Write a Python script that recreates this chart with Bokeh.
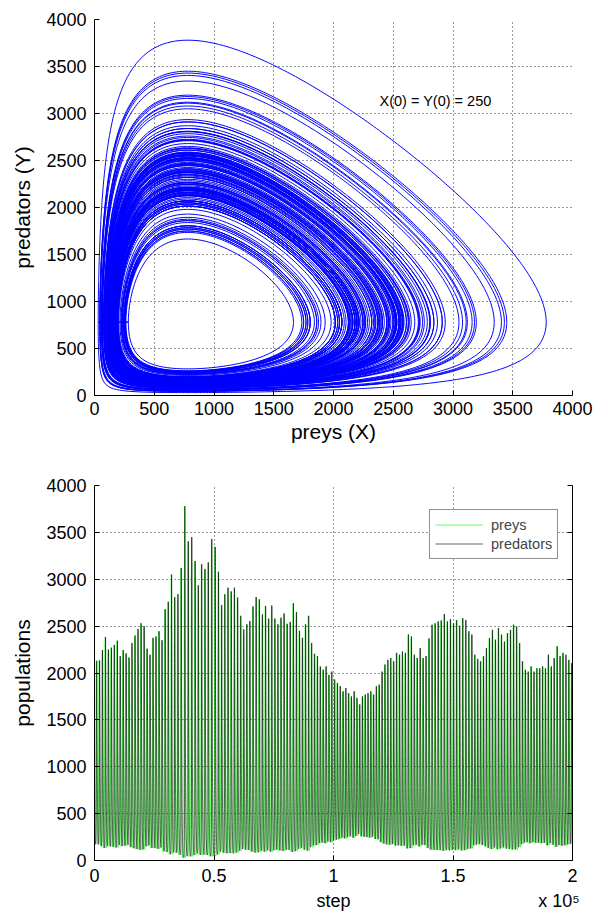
import numpy as np
from bokeh.embed import file_html
from bokeh.layouts import column
from bokeh.models import FixedTicker, Label, Legend, LegendItem, LinearAxis
from bokeh.plotting import figure
from bokeh.resources import INLINE

# Highest population reached in each successive predator-prey cycle, in step order
cycle_peaks = [
    2130, 2135, 2245, 2385, 2250, 2270, 2300, 2345, 2180, 2245, 2210, 2165,
    2320, 2400, 2470, 2530, 2500, 2260, 2195, 2375, 2390, 2445, 2350, 2680,
    2760, 3050, 2810, 2840, 3120, 3780, 3405, 3450, 3195, 2935, 3160, 3110,
    3180, 3430, 3345, 3080, 2725, 2840, 2910, 2870, 2910,
    2805, 2610, 2465, 2520, 2555, 2710, 2810, 2785, 2625, 2715, 2580, 2720,
    2580, 2520, 2590, 2635, 2525, 2545, 2745, 2650, 2450, 2375, 2520, 2610,
    2320, 2205, 2180, 2070, 2035, 2070, 1980, 2015, 1930, 1895, 1860, 1805,
    1840, 1785, 1750, 1805, 1735, 1665, 1750, 1770, 1785, 1805, 1770, 1860, 1875,
    2015, 2090, 2140, 2160, 2125, 2215, 2195, 2230, 2215, 2410, 2390, 2195,
    2160, 2265, 2160, 2180, 2370, 2515, 2530, 2550, 2560, 2630,
    2550, 2575, 2530, 2565, 2505, 2585, 2565, 2445, 2410, 2195, 2150, 2125,
    2180, 2265, 2370, 2460, 2355, 2480, 2410, 2335,
    2425, 2460, 2515, 2495, 2320, 2125, 2035, 2015, 2070, 2015, 2050, 2050,
    2070, 2050, 2195, 2070, 2160, 2285, 2180, 2215, 2195, 2140, 2105,
]
equilibrium_level = 780      # population around which both species cycle
initial_level = 250          # X(0) = Y(0)
total_steps = 200_000

population_ticks = [0, 500, 1000, 1500, 2000, 2500, 3000, 3500, 4000]
step_ticks = [0, 50_000, 100_000, 150_000, 200_000]
step_tick_labels = ["0", "0.5", "1", "1.5", "2"]
step_title = "step"
step_scale_note = "x 10\u2075"

FONT = "Liberation Sans"


def cycle_orbits(peaks, level, dt=0.004, max_steps=8000):
    """Integrate the closed predator-prey orbit through each recorded peak (log form, RK4)."""
    u = np.log(np.asarray(peaks, float) / level)
    v = np.zeros_like(u)

    def rate(a, b):
        return 1.0 - np.exp(b), np.exp(a) - 1.0

    us, vs = [u], [v]
    for _ in range(max_steps):
        a1, b1 = rate(u, v)
        a2, b2 = rate(u + 0.5 * dt * a1, v + 0.5 * dt * b1)
        a3, b3 = rate(u + 0.5 * dt * a2, v + 0.5 * dt * b2)
        a4, b4 = rate(u + dt * a3, v + dt * b3)
        u = u + dt * (a1 + 2 * a2 + 2 * a3 + a4) / 6.0
        v = v + dt * (b1 + 2 * b2 + 2 * b3 + b4) / 6.0
        us.append(u)
        vs.append(v)
    return np.array(us), np.array(vs), dt


U, V, dt = cycle_orbits(cycle_peaks, equilibrium_level)

cycles = []
for k in range(len(cycle_peaks)):
    cu, cv = U[:, k], V[:, k]
    hits = np.where((cv[:-1] < 0) & (cv[1:] >= 0) & (cu[1:] > 0))[0]
    j = hits[0] + 1 if len(hits) else len(cu) - 1
    start = int(np.argmin(cu[:j]))            # begin each cycle at the prey minimum
    order = np.r_[start:j, 0:start]
    xs = equilibrium_level * np.exp(cu[order])
    ys = equilibrium_level * np.exp(cv[order])
    ts = np.arange(j) * dt
    seg = np.hypot(np.diff(xs), np.diff(ys))
    s = np.r_[0.0, np.cumsum(seg)]
    keep = np.searchsorted(s, np.arange(0.0, s[-1], 25.0))
    keep = np.unique(np.r_[keep, np.argmax(xs), np.argmax(ys), j - 1])
    cycles.append((xs[keep], ys[keep], ts[keep], j * dt))

periods = np.array([c[3] for c in cycles])
step_scale = total_steps / periods.sum()
offsets = np.r_[0.0, np.cumsum(periods)[:-1]]

prey = np.concatenate([c[0] for c in cycles])
predators = np.concatenate([c[1] for c in cycles])
steps = np.concatenate([(o + c[2]) * step_scale for o, c in zip(offsets, cycles)])


def style(p):
    p.outline_line_color = None
    p.background_fill_color = "white"
    p.border_fill_color = "white"
    for ax in p.axis:
        ax.axis_line_color = "black"
        ax.axis_line_width = 1
        ax.major_tick_line_color = "black"
        ax.major_tick_in = 5
        ax.major_tick_out = 0
        ax.minor_tick_in = 0
        ax.minor_tick_out = 0
        ax.major_label_text_font = FONT
        ax.major_label_text_font_size = "18px"
        ax.major_label_text_color = "black"
        ax.axis_label_text_font = FONT
        ax.axis_label_text_font_size = "21px"
        ax.axis_label_text_font_style = "normal"
        ax.axis_label_text_color = "black"
    p.grid.grid_line_color = "black"
    p.grid.grid_line_alpha = 0.8
    p.grid.grid_line_dash = "1 3"
    p.grid.grid_line_width = 1


# Phase portrait: predators against preys
p1 = figure(
    width=608, height=459, x_range=(0, 4000), y_range=(0, 4000),
    output_backend="svg", toolbar_location=None,
    min_border_left=94, min_border_right=36, min_border_top=19, min_border_bottom=64,
)
p1.line(prey, predators, line_color="#0000ff", line_width=1.0)
p1.xaxis.ticker = FixedTicker(ticks=population_ticks)
p1.yaxis.ticker = FixedTicker(ticks=population_ticks)
p1.xaxis.axis_label = "preys (X)"
p1.yaxis.axis_label = "predators (Y)"
style(p1)
p1.xaxis.major_label_standoff = 6
p1.xaxis.axis_label_standoff = 2
p1.yaxis.major_label_standoff = 8
p1.yaxis.axis_label_standoff = 9
p1.add_layout(Label(
    x=2385, y=3138, text=f"X(0) = Y(0) = {initial_level}",
    text_font=FONT, text_font_size="14.5px", text_baseline="middle", text_color="black",
))

# Both populations against simulation step
p2 = figure(
    width=608, height=454, x_range=(0, total_steps), y_range=(0, 4000),
    output_backend="svg", toolbar_location=None,
    min_border_left=94, min_border_right=36, min_border_top=26, min_border_bottom=51,
)
prey_line = p2.line(steps, prey, line_color="#00ff00", line_width=0.6)
pred_line = p2.line(steps, predators, line_color="black", line_width=0.6)

# The step title and the x10^5 scale note share a second text row under the tick labels
step_labels = list(step_tick_labels)
step_labels[2] = f"{step_labels[2]}\n{step_title}"
step_labels[4] = f"{step_labels[4]}\n{step_scale_note}\u2003\u2002"
p2.xaxis.ticker = FixedTicker(ticks=step_ticks)
p2.xaxis.major_label_overrides = dict(zip(step_ticks, step_labels))
p2.yaxis.ticker = FixedTicker(ticks=population_ticks)
p2.yaxis.axis_label = "populations"
right_axis = LinearAxis(ticker=FixedTicker(ticks=population_ticks))
p2.add_layout(right_axis, "right")
style(p2)
right_axis.major_label_text_font_size = "0px"
right_axis.major_label_text_alpha = 0
right_axis.major_label_standoff = 0
p2.xaxis.major_label_standoff = 5
p2.xaxis.major_label_text_line_height = 1.25
p2.yaxis.major_label_standoff = 8
p2.yaxis.axis_label_standoff = 9

legend = Legend(
    items=[LegendItem(label="preys", renderers=[prey_line]),
           LegendItem(label="predators", renderers=[pred_line])],
    location=(335, 301),
    label_text_font=FONT, label_text_font_size="14.5px",
    glyph_width=48, glyph_height=19, label_height=19, label_standoff=8,
    spacing=0, padding=5, margin=0,
    border_line_color="#222222", border_line_width=1,
    background_fill_color="white", background_fill_alpha=1,
)
p2.add_layout(legend)

layout = column(p1, p2, spacing=0)
open("out.html", "w").write(file_html(layout, INLINE))
